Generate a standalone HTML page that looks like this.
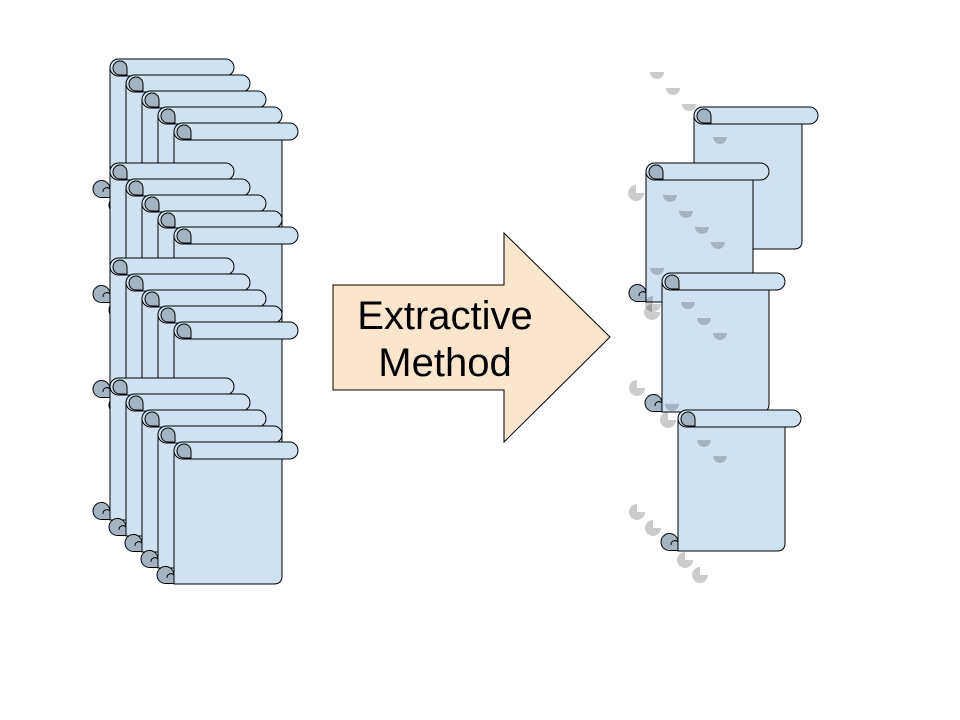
<!DOCTYPE html>
<html><head><meta charset="utf-8"><style>
html,body{margin:0;padding:0;background:#fff;width:960px;height:720px;overflow:hidden}
svg{display:block}
</style></head><body>
<svg id="s" width="960" height="720" xmlns="http://www.w3.org/2000/svg">
<g id="g"></g>
<polygon points="333,285 504,285 504,233 610,337 504,442 504,390 333,390" fill="#fce5cd" stroke="#000" stroke-width="1"/>
<text x="445" y="329" font-family="Liberation Sans, sans-serif" font-size="40" text-anchor="middle">Extractive</text>
<text x="445" y="376" font-family="Liberation Sans, sans-serif" font-size="40" text-anchor="middle">Method</text>
<g id="gh"></g>
</svg>
<script>
var g=document.getElementById('g'),h='';
function scroll(x,y,R,b){
  var s='';
  s+='<path d="M'+x+','+(y+8)+' L'+x+','+b+' L'+(R-8)+','+b+' Q'+R+','+b+' '+R+','+(b-8)+' L'+R+','+(y+8)+' Z" fill="#cfe2f3" stroke="#000" stroke-width="1"/>';
  s+='<rect x="'+x+'" y="'+y+'" width="'+(R+16-x)+'" height="17" rx="8.5" fill="#cfe2f3" stroke="#000" stroke-width="1"/>';
  s+='<path d="M'+(x+17)+','+(y+9)+' A7,7 0 1 0 '+(x+10)+','+(y+16)+' L'+(x+17)+','+(y+16)+' Z" fill="#a5b4c3" stroke="#000" stroke-width="1"/>';
  var cx=x-8,cy=b-9;
  s+='<path d="M'+x+','+(cy)+' A8.5,8.5 0 1 0 '+cx+','+(cy+8.5)+' L'+x+','+(cy+8.5)+' L'+x+','+cy+' A4,4 0 0 0 '+(cx+1)+','+(cy+3)+'" fill="#a5b4c3" stroke="#000" stroke-width="1"/>';
  return s;
}
var groups=[[59,198],[163,303],[258,398],[378,520]];
groups.forEach(function(gr){
  for(var i=0;i<5;i++){
    var x=110+16*i,y=gr[0]+16*i;
    h+=scroll(x,y,218+16*i,gr[1]+16*i);
  }
});
h+=scroll(694,107,802,249);
h+=scroll(646,163,753,302);
h+=scroll(662,273,769,412);
h+=scroll(678,410,785,551);
g.innerHTML=h;
var gh='';
function pac(x,y,r){return '<path d="M'+x+','+y+' L'+(x+r)+','+y+' A'+r+','+r+' 0 1 1 '+x+','+(y-r)+' Z" fill="rgba(0,0,0,0.2)"/>';}
function drop(x,y,r){return '<path d="M'+(x-r)+','+(y-3)+' L'+(x+r)+','+(y-3)+' A'+r+','+r+' 0 0 1 '+(x-r)+','+(y-3)+' Z" fill="rgba(0,0,0,0.2)"/>';}
[[657,72],[673,88],[689,104],[720,137],[670,195],[686,211],[702,227],[718,242],[657,268],[688,302],[704,318],[720,333],[672,404],[704,440],[720,456]].forEach(function(p){gh+=drop(p[0],p[1]+3,7);});
[[636,193],[653,304],[637,388],[668,420],[637,512],[653,528],[685,560],[700,575],[652,312]].forEach(function(p){gh+=pac(p[0],p[1],8);});
document.getElementById('gh').innerHTML=gh;
</script>
</body></html>
